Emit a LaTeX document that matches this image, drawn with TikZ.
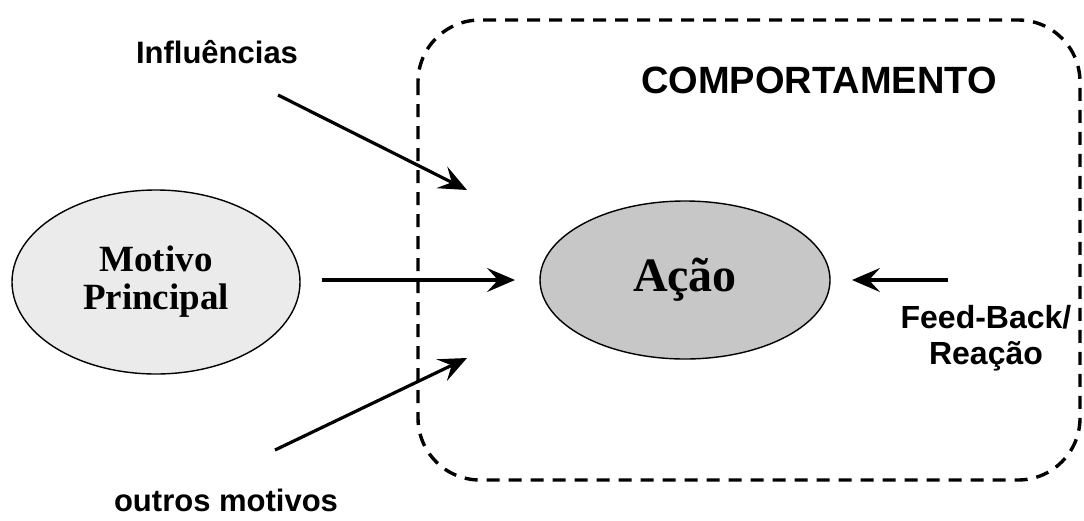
\documentclass[tikz,border=0pt]{standalone}
\usepackage{fontspec}
\setmainfont{Liberation Serif}
\setsansfont{Liberation Sans}
\usetikzlibrary{arrows.meta,shapes.geometric}
\tikzset{
  arr/.style={line width=3.2pt,-{Stealth[length=28pt,width=24pt,inset=11pt]}},
  bubble/.style={ellipse,draw,line width=1.4pt,inner sep=0pt},
  lbl/.style={font=\sffamily\bfseries\fontsize{31}{35}\selectfont,align=center},
}
\begin{document}
\begin{tikzpicture}[x=1pt,y=-1pt]
\useasboundingbox (0,0) rectangle (1084,520);
\fill[white] (0,0) rectangle (1084,520);
\draw[dash pattern=on 13pt off 9pt,line width=3.4pt,rounded corners=62pt] (418,20) rectangle (1080,480);
\node[font=\sffamily\bfseries\fontsize{38}{40}\selectfont] (comp) at (819,80) {COMPORTAMENTO};
\node[bubble,fill=black!8,minimum width=288pt,minimum height=184pt,align=center,font=\bfseries\fontsize{37}{38}\selectfont] (motivo) at (156,282) {Motivo\\Principal};
\node[bubble,fill=black!22,minimum width=290pt,minimum height=158pt,font=\bfseries\fontsize{48}{50}\selectfont] (acao) at (685,280) {Ação};
\node[lbl] (infl) at (217,52) {Influências};
\node[lbl] (outros) at (226,500) {outros motivos};
\node[lbl,font=\sffamily\bfseries\fontsize{32}{36}\selectfont] (feed) at (986,338) {Feed-Back/\\Reação};
\coordinate (m0) at (322,280);
\coordinate (m1) at (515,280);
\coordinate (i0) at (278,95);
\coordinate (i1) at (467,190);
\coordinate (o0) at (275,450);
\coordinate (o1) at (467,358);
\coordinate (f0) at (948,280);
\coordinate (f1) at (852,280);
\draw[arr] (m0) -- (m1);
\draw[arr] (i0) -- (i1);
\draw[arr] (o0) -- (o1);
\draw[arr] (f0) -- (f1);
\end{tikzpicture}
\end{document}
